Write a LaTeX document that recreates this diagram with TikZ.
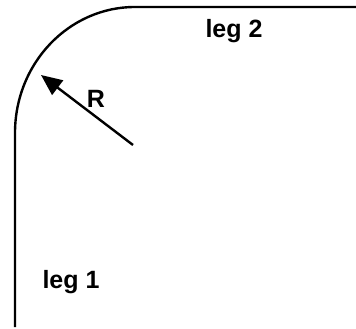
\documentclass[tikz,border=0pt]{standalone}
\usepackage{fontspec}
\setmainfont{Liberation Sans}
\usetikzlibrary{arrows.meta}
\begin{document}
\begin{tikzpicture}[x=1pt,y=-1pt,
  curve/.style={line width=2.4pt},
  radius arrow/.style={line width=2.4pt,-{Triangle[length=21pt,width=18pt]}},
  lbl/.style={font=\fontsize{25}{28}\selectfont\bfseries,inner sep=0pt}]
\useasboundingbox (0,0) rectangle (356,329);
\coordinate (bottom) at (15,327);
\coordinate (arcstart) at (15,133);
\coordinate (arcend) at (135,7);
\coordinate (right) at (356,7);
\coordinate (center) at (133,145);
\coordinate (tip) at (41,75);
\draw[curve] (bottom) -- (arcstart) arc[start angle=180,end angle=90,x radius=120,y radius=-126] -- (right);
\draw[radius arrow] (center) -- (tip);
\node[lbl,anchor=base] (leg2) at (234,38) {leg 2};
\node[lbl,anchor=base] (leg1) at (71,288) {leg 1};
\node[lbl,anchor=base] (R) at (96,107) {R};
\end{tikzpicture}
\end{document}
